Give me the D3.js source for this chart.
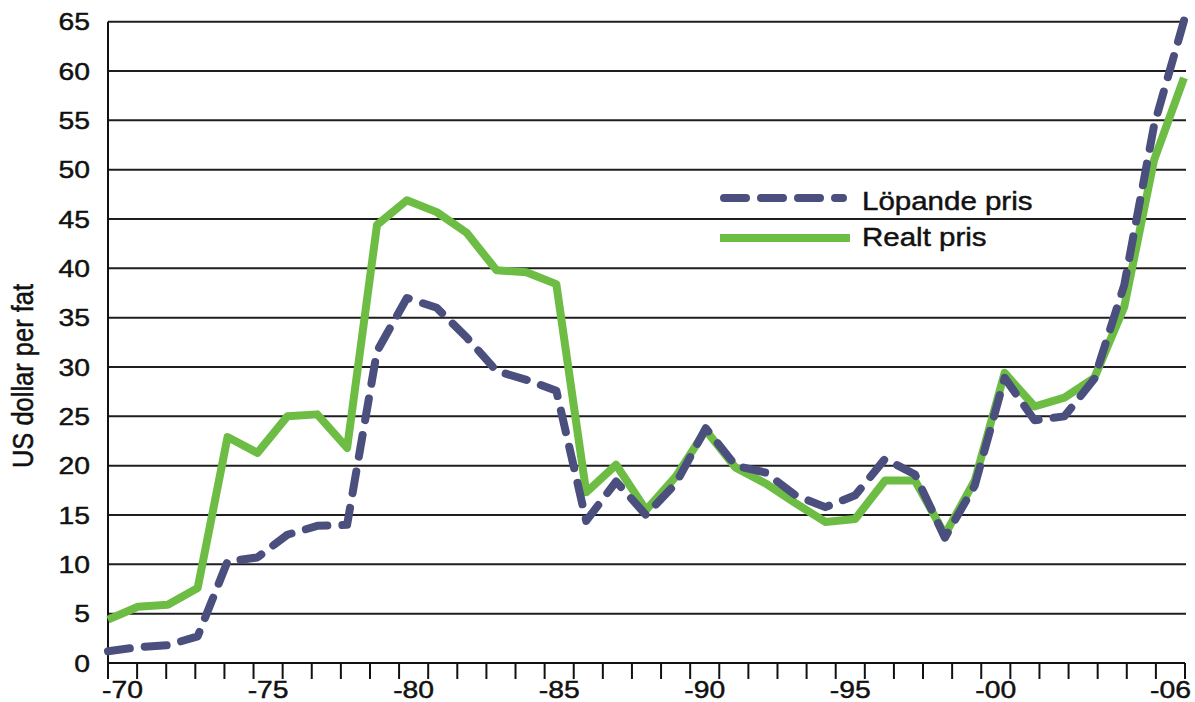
<!DOCTYPE html>
<html>
<head>
<meta charset="utf-8">
<script src="https://cdn.jsdelivr.net/npm/d3@7"></script>
<style>
  html, body { margin: 0; padding: 0; background: #fff; }
  svg { display: block; font-family: "Liberation Sans", Arial, Helvetica, sans-serif; }
  svg text { stroke: #111; stroke-width: 0.45px; }
</style>
</head>
<body>
<script>
// ---- data ----
const years = [1970,1971,1972,1973,1974,1975,1976,1977,1978,1979,
               1980,1981,1982,1983,1984,1985,1986,1987,1988,1989,
               1990,1991,1992,1993,1994,1995,1996,1997,1998,1999,
               2000,2001,2002,2003,2004,2005,2006];
// Löpande pris (nominal)
const lopandePris = [1.2,1.6,1.8,2.7,10.3,10.7,13.0,13.9,14.0,31.6,
                     37.0,36.0,33.0,29.6,28.7,27.6,14.4,18.4,15.0,18.2,
                     23.8,20.0,19.3,17.0,15.8,17.0,20.7,19.1,12.7,18.0,
                     28.9,24.6,25.0,28.8,38.3,54.5,65.1];
// Realt pris (real)
const realtPris = [4.4,5.7,5.9,7.6,22.9,21.3,25.0,25.2,21.8,44.4,
                   46.9,45.7,43.6,39.8,39.6,38.4,17.3,20.1,15.5,18.9,
                   23.6,19.8,18.2,16.2,14.3,14.6,18.5,18.5,13.0,18.5,
                   29.4,26.0,26.9,28.9,36.1,51.0,59.3];
const yTicks = [0,5,10,15,20,25,30,35,40,45,50,55,60,65];
const xLabelYears = [1970,1975,1980,1985,1990,1995,2000,2006];
const xLabelTexts = ["-70","-75","-80","-85","-90","-95","-00","-06"];
const seriesNames = ["Löpande pris","Realt pris"];
const yTitle = "US dollar per fat";

// ---- layout ----
const W = 1195, H = 702;
const plotLeft = 108, plotRight = 1185, plotTop = 21.7, plotBottom = 663;
const SX = 1.18; // horizontal text stretch of the reference
const green = "#6dbd45", navy = "#4b4f7e", ink = "#111";

const svg = d3.select("body").append("svg").attr("width", W).attr("height", H);

const x = d3.scalePoint().domain(years).range([plotLeft, 1184]);
const xb = d3.scaleBand().domain(years).range([plotLeft, plotRight]).padding(0);
const y = d3.scaleLinear().domain([0, 65]).range([plotBottom, plotTop]);

// gridlines
svg.append("g").selectAll("line").data(yTicks.filter(d => d > 0)).join("line")
  .attr("x1", plotLeft).attr("x2", 1186)
  .attr("y1", d => y(d)).attr("y2", d => y(d))
  .attr("stroke", "#1e1e1e").attr("stroke-width", 2);

// x axis (ticks at band edges, labels at band centres)
const tickXs = years.map(d => xb(d)).concat([xb(years[years.length-1]) + xb.bandwidth()]);
svg.append("line").attr("x1", plotLeft).attr("x2", plotRight)
  .attr("y1", y(0)).attr("y2", y(0)).attr("stroke", ink).attr("stroke-width", 2);
svg.append("g").selectAll("line").data(tickXs).join("line")
  .attr("x1", d => d).attr("x2", d => d)
  .attr("y1", y(0)).attr("y2", y(0) + 16)
  .attr("stroke", ink).attr("stroke-width", 2);
// y axis line
svg.append("line").attr("x1", plotLeft).attr("x2", plotLeft)
  .attr("y1", plotTop).attr("y2", y(0) + 16).attr("stroke", ink).attr("stroke-width", 2);

// y tick labels
svg.append("g").selectAll("g").data(yTicks).join("g")
  .attr("transform", d => `translate(90,${y(d)}) scale(${SX},1)`)
  .append("text").attr("text-anchor", "end").attr("dy", "0.36em")
  .attr("font-size", 24).attr("fill", ink).text(d => d);

// x tick labels
svg.append("g").selectAll("g").data(xLabelYears).join("g")
  .attr("transform", d => `translate(${xb(d) + xb.bandwidth()/2},698) scale(${SX},1)`)
  .append("text").attr("text-anchor", "middle")
  .attr("font-size", 24).attr("fill", ink).text((d, i) => xLabelTexts[i]);

// y title
svg.append("g").attr("transform", `translate(33,376) scale(${SX},1) rotate(-90)`)
  .append("text").attr("text-anchor", "middle").attr("font-size", 25.5)
  .attr("fill", ink).text(yTitle);

// lines
const line = d3.line().x((d, i) => x(years[i])).y(d => y(d));
svg.append("path").datum(realtPris).attr("d", line)
  .attr("fill", "none").attr("stroke", green).attr("stroke-width", 8)
  .attr("stroke-linejoin", "round");
svg.append("path").datum(lopandePris).attr("d", line)
  .attr("fill", "none").attr("stroke", navy).attr("stroke-width", 8)
  .attr("stroke-linecap", "round").attr("stroke-linejoin", "round")
  .attr("stroke-dasharray", "22,15");

// legend
const lg = svg.append("g");
lg.append("line").attr("x1", 724).attr("x2", 843).attr("y1", 198).attr("y2", 198)
  .attr("stroke", navy).attr("stroke-width", 8).attr("stroke-linecap", "round")
  .attr("stroke-dasharray", "22,15");
lg.append("line").attr("x1", 720).attr("x2", 850).attr("y1", 238).attr("y2", 238)
  .attr("stroke", green).attr("stroke-width", 8);
[[210, seriesNames[0]], [246, seriesNames[1]]].forEach(([by, t]) => {
  lg.append("g").attr("transform", `translate(862,${by}) scale(${SX},1)`)
    .append("text").attr("font-size", 25).attr("fill", ink).text(t);
});
</script>
</body>
</html>
